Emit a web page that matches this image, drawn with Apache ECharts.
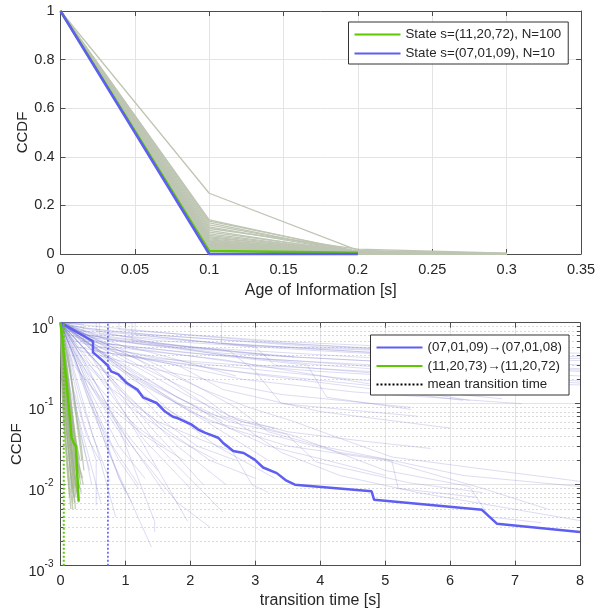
<!DOCTYPE html>
<html><head><meta charset="utf-8">
<script src="https://cdn.jsdelivr.net/npm/echarts@6/dist/echarts.min.js"></script>
<style>html,body{margin:0;padding:0;background:#fff}#c{width:597px;height:614px}</style>
</head><body><div id="c"></div>
<script>
// ================= TOP PANEL DATA =================
const topAges = [0, 0.1, 0.2, 0.3];
const topGreenCCDF = [1, 0.012, 0.005];          // State s=(11,20,72), N=100
const topBlueCCDF  = [1, 0.0, 0.0];              // State s=(07,01,09), N=10
const topGrayAt01 = [0.25,0.14,0.135,0.128,0.12,0.112,0.105,0.097,0.09,0.083,0.077,0.071,0.066,0.062,0.058,0.055,0.052,0.049,0.046,0.044,0.042,0.040,0.038,0.036,0.034,0.032,0.030,0.028,0.027,0.026,0.025,0.024,0.023,0.022,0.021,0.020,0.019,0.018,0.017,0.016];
const topGrayAt02 = [0.015,0.008,0.012,0.004,0.010,0.006,0.020,0.003,0.009,0.005,0.007,0.002,0.011,0.004,0.006,0.003,0.008,0.002,0.005,0.001,0.004,0.003,0.006,0.002,0.001,0.003,0.002,0.004,0.001,0.002,0.003,0.001,0.002,0.001,0.002,0.001,0.001,0.002,0.001,0.001];
const topGrayAt03 = [0.002,0,0.001,0,0,0,0.003,0,0,0,0.001,0,0.001,0,0,0,0,0,0,0,0,0,0,0,0,0,0,0,0,0,0,0,0,0,0,0,0,0,0,0];

// ================= BOTTOM PANEL DATA =================
const blueTransition = [[0,1],[0.5,0.59],[0.5,0.43],[0.63,0.35],[0.72,0.30],[0.78,0.25],[0.89,0.23],[1.02,0.18],[1.19,0.148],[1.27,0.12],[1.48,0.102],[1.61,0.080],[1.73,0.069],[1.81,0.066],[2.02,0.055],[2.12,0.048],[2.22,0.044],[2.43,0.038],[2.5,0.033],[2.66,0.026],[2.82,0.0246],[2.99,0.0204],[3.12,0.0163],[3.33,0.0139],[3.48,0.0112],[3.61,0.010],[4.79,0.0083],[4.83,0.0065],[6.49,0.0049],[6.72,0.0033],[8,0.0026]];
const greenTransition = [[0,1],[0.03,0.6],[0.09,0.19],[0.15,0.06],[0.17,0.038],[0.21,0.032],[0.235,0.03],[0.28,0.0062]];
const meanBlue = 0.73;
const meanGreen = 0.05;

const lavenderLines = [
 [[0,1],[0.4,0.85],[1.5,0.7],[3,0.58],[5,0.47],[8,0.42]],
 [[0,1],[0.5,0.8],[2.5,0.55],[5,0.42],[8,0.34]],
 [[0,1],[0.3,0.8],[1.5,0.6],[4,0.45],[8,0.3]],
 [[0,1],[0.6,0.7],[2,0.5],[5,0.36],[8,0.27]],
 [[0,1],[0.2,0.75],[1.2,0.55],[3.5,0.38],[8,0.25]],
 [[0,1],[0.5,0.65],[2.5,0.42],[6,0.3],[8,0.26]],
 [[0,1],[0.8,0.6],[3,0.36],[8,0.22]],
 [[0,1],[0.3,0.6],[2,0.42],[5,0.28],[8,0.19]],
 [[0,1],[1,0.5],[3,0.3],[6,0.22],[8,0.18]],
 [[0,1],[0.4,0.55],[1.5,0.36],[4,0.25],[7.6,0.17]],
 [[0,1],[0.6,0.5],[2,0.32],[4.5,0.2],[6.8,0.14]],
 [[0,1],[0.2,0.6],[1,0.4],[3,0.23],[6.2,0.11]],
 [[0,1],[0.5,0.45],[2.5,0.26],[5,0.16],[6.8,0.115]],
 [[0,1],[0.9,0.42],[2.8,0.2],[4.5,0.14],[7.1,0.1]],
 [[0,1],[0.3,0.45],[1.5,0.26],[3.4,0.13],[5.4,0.09]],
 [[0,1],[2.48,1],[2.48,0.56],[5,0.42],[8,0.36]],
 [[0,1],[0.6,1],[0.6,0.72],[3,0.52],[7,0.39]],
 [[0,1],[0.9,1],[0.9,0.82],[3.5,0.58],[6,0.47]],
 [[0,1],[1.15,1],[1.15,0.72],[3,0.5],[3.3,0.3],[6,0.2],[8,0.17]],
 [[0,1],[0.4,0.7],[2.6,0.45],[3.0,0.25],[3.4,0.1],[5.5,0.07]],
 [[0,1],[0.7,0.55],[3.8,0.3],[4.1,0.12],[5.4,0.085]],
 [[0,1],[0.25,0.5],[1.8,0.3],[2.5,0.15],[4,0.08],[6,0.05]],
 [[0,1],[0.15,0.7],[0.8,0.5],[2.5,0.35],[6.3,0.11]],
 [[0,1],[1.1,1],[1.1,0.6],[2.5,0.4],[4,0.3],[7,0.2]],
 [[0,1],[0.55,1],[0.55,0.8],[1.5,0.55],[3.2,0.4]],
 [[0,1],[0.35,0.95],[0.35,0.6],[1.0,0.3],[1.8,0.12],[2.5,0.06]],
 [[0,1],[0.2,0.9],[1.0,0.75],[2.4,0.62],[4.0,0.5],[6.5,0.41],[8,0.38]],
 [[0,1],[0.7,0.88],[2.0,0.7],[3.6,0.55],[5.3,0.46]],
 [[0,1],[0.1,0.8],[0.8,0.62],[2.2,0.48],[3.6,0.38]],
 [[0,1],[0.45,0.62],[1.3,0.45],[2.1,0.3],[2.7,0.22]],
 [[0,1],[0.3,0.3],[0.6,0.06],[0.9,0.012],[1.1,0.006]],
 [[0,1],[0.2,0.4],[0.5,0.08],[0.8,0.02],[1.4,0.0017]],
 [[0,1],[0.4,0.3],[0.9,0.05],[1.45,0.0035],[1.45,0.0026]],
 [[0,1],[0.5,0.35],[1.2,0.04],[1.96,0.0035]],
 [[0,1],[0.6,0.3],[1.5,0.03],[2.5,0.0046]],
 [[0,1],[0.15,0.3],[0.35,0.06],[0.55,0.02],[0.55,0.0056]],
 [[0,1],[0.25,0.2],[0.5,0.04],[0.76,0.011]],
 [[0,1],[0.1,0.4],[0.3,0.05],[0.48,0.01]],
 [[0,1],[0.35,0.2],[0.7,0.03],[1.0,0.008]],
 [[0,1],[0.4,0.15],[0.8,0.03],[1.2,0.01]],
 [[0,1],[0.5,0.2],[1.0,0.04],[1.6,0.008]],
 [[0,1],[0.3,0.25],[0.9,0.03],[1.3,0.012]],
 [[0,1],[0.7,0.25],[1.4,0.05],[2.2,0.01]],
 [[0,1],[0.8,0.2],[1.8,0.03],[2.55,0.01]],
 [[0,1],[0.2,0.15],[0.4,0.04],[0.6,0.02]],
 [[0,1],[0.45,0.1],[0.9,0.02],[1.2,0.009]],
 [[0,1],[0.6,0.12],[1.1,0.035],[1.5,0.015]],
 [[0,1],[1.0,0.2],[1.6,0.06],[2.1,0.03],[2.7,0.02]],
 [[0,1],[0.9,0.3],[1.7,0.08],[2.4,0.03],[3.3,0.012]],
 [[0,1],[0.35,0.5],[0.9,0.15],[1.6,0.05],[2.3,0.02],[3.0,0.012]],
 [[0,1],[0.25,0.08],[0.45,0.02],[0.62,0.006]],
 [[0,1],[0.15,0.5],[0.4,0.2],[0.7,0.08],[1.05,0.03]],
 [[0,1],[0.5,0.5],[1.1,0.2],[1.8,0.1],[2.6,0.04],[3.2,0.02]],
 [[0,1],[0.3,0.12],[0.55,0.03],[0.85,0.004]],
 [[0,1],[0.12,0.2],[0.28,0.05],[0.45,0.015]],
 [[0,1],[0.3,0.4],[0.8,0.15],[1.5,0.06],[2.2,0.035],[2.7,0.025]],
 [[0,1],[0.4,0.3],[1.0,0.1],[1.7,0.04],[2.4,0.02]],
 [[0,1],[0.6,0.5],[1.3,0.25],[2.0,0.12],[2.8,0.06],[3.3,0.05]],
 [[0,1],[0.2,0.3],[0.7,0.1],[1.3,0.04],[1.9,0.02]],
 [[0,1],[1.2,0.3],[2.2,0.12],[2.6,0.07],[3.5,0.045],[4.6,0.035],[5.7,0.028]],
 [[0,1],[0.8,0.35],[1.8,0.12],[2.6,0.06],[3.48,0.042],[3.94,0.019],[5.38,0.0105],[6.5,0.008]],
 [[0,1],[1.0,0.25],[2.0,0.1],[2.6,0.05],[3.2,0.03],[3.6,0.025],[4.1,0.02],[5.0,0.013]],
 [[0,1],[0.5,0.3],[1.5,0.1],[2.6,0.03],[2.95,0.01],[3.2,0.008]],
 [[0,1],[0.8,0.3],[2,0.08],[2.6,0.05],[3.5,0.03],[5,0.02],[6.5,0.009],[7.5,0.005]],
 [[0,1],[1,0.25],[2.3,0.06],[3.3,0.04],[4.3,0.025],[5.1,0.02],[5.2,0.009],[6.4,0.007]],
 [[0,1],[1.2,0.35],[2.5,0.07],[3.6,0.04],[5,0.015],[6.3,0.0095],[6.6,0.004],[7.4,0.0034]],
 [[0,1],[0.7,0.4],[1.8,0.1],[2.7,0.06],[3.4,0.025],[4.3,0.013],[5.5,0.008],[8,0.0036]],
 [[0,1],[1.5,0.3],[2.7,0.09],[3.2,0.045],[4.0,0.03],[5.1,0.02],[6.2,0.013],[8,0.0095]],
 [[0,1],[0.9,0.45],[2.2,0.15],[2.9,0.09],[3.6,0.06],[4.2,0.04],[5.1,0.022],[6.4,0.016],[8,0.011]],
 [[0,1],[0.5,0.15],[1.1,0.03],[1.8,0.006],[2.3,0.003]],
 [[0,1],[0.65,0.18],[1.3,0.035],[2.0,0.009]],
 [[0,1],[0.1,0.6],[0.4,0.25],[0.8,0.1],[1.2,0.05],[1.6,0.03]]
];

const fanLines = [
 [[0,1],[0.05,0.3],[0.12,0.06],[0.2,0.015],[0.25,0.008]],
 [[0,1],[0.08,0.25],[0.16,0.05],[0.26,0.012],[0.32,0.008]],
 [[0,1],[0.1,0.3],[0.2,0.06],[0.3,0.015],[0.35,0.01]],
 [[0,1],[0.04,0.2],[0.1,0.04],[0.18,0.01],[0.22,0.006]],
 [[0,1],[0.06,0.15],[0.14,0.03],[0.24,0.007]],
 [[0,1],[0.12,0.2],[0.22,0.04],[0.3,0.02]],
 [[0,1],[0.07,0.4],[0.15,0.1],[0.25,0.025],[0.3,0.012]],
 [[0,1],[0.03,0.35],[0.09,0.08],[0.16,0.02],[0.2,0.009]],
 [[0,1],[0.11,0.15],[0.2,0.03],[0.28,0.009]],
 [[0,1],[0.02,0.5],[0.06,0.12],[0.13,0.025],[0.19,0.006]],
 [[0,1],[0.15,0.25],[0.25,0.06],[0.33,0.02]],
 [[0,1],[0.09,0.12],[0.17,0.02],[0.23,0.005]],
 [[0,1],[0.13,0.35],[0.24,0.08],[0.32,0.03],[0.36,0.015]],
 [[0,1],[0.05,0.2],[0.13,0.05],[0.21,0.012],[0.27,0.007]],
 [[0,1],[0.01,0.3],[0.04,0.08],[0.09,0.02],[0.14,0.007]],
 [[0,1],[0.02,0.25],[0.07,0.05],[0.12,0.012],[0.16,0.005]],
 [[0,1],[0.04,0.4],[0.1,0.1],[0.17,0.03],[0.24,0.01]],
 [[0,1],[0.06,0.35],[0.14,0.07],[0.22,0.018],[0.29,0.009]],
 [[0,1],[0.03,0.2],[0.08,0.06],[0.15,0.015],[0.21,0.007]],
 [[0,1],[0.09,0.28],[0.18,0.06],[0.27,0.016],[0.31,0.01]],
 [[0,1],[0.02,0.4],[0.05,0.15],[0.11,0.035],[0.18,0.008]],
 [[0,1],[0.1,0.22],[0.19,0.05],[0.26,0.02],[0.34,0.012]],
 [[0,1],[0.07,0.18],[0.15,0.04],[0.23,0.012],[0.28,0.006]],
 [[0,1],[0.05,0.45],[0.12,0.12],[0.2,0.035],[0.27,0.014]],
 [[0,1],[0.08,0.15],[0.16,0.035],[0.25,0.009]],
 [[0,1],[0.03,0.12],[0.09,0.03],[0.15,0.009],[0.19,0.005]]
];

const minorLogTicks = [0.002,0.003,0.004,0.005,0.006,0.007,0.008,0.009,0.02,0.03,0.04,0.05,0.06,0.07,0.08,0.09,0.2,0.3,0.4,0.5,0.6,0.7,0.8,0.9];

const nameTopGreen = 'State s=(11,20,72), N=100';
const nameTopBlue = 'State s=(07,01,09), N=10';
const nameBotBlue = '(07,01,09)\u2192(07,01,08)';
const nameBotGreen = '(11,20,73)\u2192(11,20,72)';
const nameMean = 'mean transition time';

// ================= STYLE =================
const FONT = 'Liberation Sans, Arial, Helvetica, sans-serif';
const TXT = '#262626';
const AX = '#4d4d4d';
const GRID = '#e4e4e4';
const BLUE = '#5e5ef2';
const GREEN = '#5dc800';
const GRAY = '#bec6b3';
const LAV = 'rgba(130,130,210,0.28)';
const FAN = 'rgba(160,176,140,0.62)';

function xAx(grid, pos, opt) {
  return Object.assign({
    gridIndex: grid, type: 'value', position: pos, nameMoveOverlap: false,
    axisLine: {show: true, onZero: false, lineStyle: {color: AX, width: 1}},
    axisTick: {show: true, inside: true, length: 5, lineStyle: {color: AX}},
    axisLabel: {show: pos === 'bottom', color: TXT, fontSize: 14.5, fontFamily: FONT, margin: 8},
    splitLine: {show: pos === 'bottom', lineStyle: {color: GRID, width: 1}}
  }, opt);
}
function yAx(grid, pos, opt) {
  return Object.assign({
    gridIndex: grid, type: 'value', position: pos, nameMoveOverlap: false,
    axisLine: {show: true, onZero: false, lineStyle: {color: AX, width: 1}},
    axisTick: {show: true, inside: true, length: 5, lineStyle: {color: AX}},
    axisLabel: {show: pos === 'left', color: TXT, fontSize: 14.5, fontFamily: FONT, margin: 6},
    splitLine: {show: pos === 'left', lineStyle: {color: GRID, width: 1}}
  }, opt);
}

const series = [];
for (let i = 0; i < topGrayAt01.length; i++) {
  series.push({type: 'line', xAxisIndex: 0, yAxisIndex: 0, silent: true, symbol: 'none',
    lineStyle: {color: GRAY, width: 1.3}, z: 2,
    data: [[topAges[0], 1], [topAges[1], topGrayAt01[i]], [topAges[2], topGrayAt02[i]], [topAges[3], topGrayAt03[i]]]});
}
series.push({name: nameTopGreen, type: 'line', xAxisIndex: 0, yAxisIndex: 0, symbol: 'none', clip: false,
  lineStyle: {color: GREEN, width: 2.5}, itemStyle: {color: GREEN}, z: 4,
  data: topGreenCCDF.map((v, i) => [topAges[i], v])});
series.push({name: nameTopBlue, type: 'line', xAxisIndex: 0, yAxisIndex: 0, symbol: 'none', clip: false,
  lineStyle: {color: BLUE, width: 2.5}, itemStyle: {color: BLUE}, z: 5,
  data: topBlueCCDF.map((v, i) => [topAges[i], v])});

series.push({type: 'custom', xAxisIndex: 2, yAxisIndex: 2, silent: true, z: 1,
  data: minorLogTicks.map(v => [0, v]),
  renderItem: function (params, api) {
    const v = api.value(1);
    const p0 = api.coord([0, v]);
    const p1 = api.coord([8, v]);
    const y = Math.round(p0[1]) + 0.5;
    return {type: 'group', children: [
      {type: 'line', shape: {x1: p0[0], y1: y, x2: p1[0], y2: y}, style: {stroke: '#b4b4b4', lineWidth: 1, lineDash: [1, 3]}},
      {type: 'line', shape: {x1: p0[0], y1: y, x2: p0[0] + 3, y2: y}, style: {stroke: AX, lineWidth: 1}},
      {type: 'line', shape: {x1: p1[0] - 3, y1: y, x2: p1[0], y2: y}, style: {stroke: AX, lineWidth: 1}}
    ]};
  }
});
lavenderLines.forEach(l => series.push({type: 'line', xAxisIndex: 2, yAxisIndex: 2, silent: true, symbol: 'none',
  lineStyle: {color: LAV, width: 1}, z: 2, data: l}));
fanLines.forEach(l => series.push({type: 'line', xAxisIndex: 2, yAxisIndex: 2, silent: true, symbol: 'none',
  lineStyle: {color: FAN, width: 1.3}, z: 3, data: l}));
series.push({name: nameBotBlue, type: 'line', xAxisIndex: 2, yAxisIndex: 2, symbol: 'none',
  lineStyle: {color: BLUE, width: 2.5}, itemStyle: {color: BLUE}, z: 5, data: blueTransition});
series.push({name: nameBotGreen, type: 'line', xAxisIndex: 2, yAxisIndex: 2, symbol: 'none',
  lineStyle: {color: GREEN, width: 2.5}, itemStyle: {color: GREEN}, z: 5, data: greenTransition});
series.push({name: nameMean, type: 'line', xAxisIndex: 2, yAxisIndex: 2, symbol: 'none',
  lineStyle: {color: '#000', width: 2, type: [2, 2]}, itemStyle: {color: '#000'}, data: []});
series.push({type: 'line', xAxisIndex: 2, yAxisIndex: 2, symbol: 'none', silent: true, z: 6,
  lineStyle: {color: BLUE, width: 1.6, type: [2, 2]}, data: [[meanBlue, 0.001], [meanBlue, 1]]});
series.push({type: 'line', xAxisIndex: 2, yAxisIndex: 2, symbol: 'none', silent: true, z: 6,
  lineStyle: {color: GREEN, width: 2, type: [2, 2]}, data: [[meanGreen, 0.001], [meanGreen, 1]]});

const logLabel = {
  show: true, color: TXT, fontFamily: FONT, margin: 7, padding: [8, 0, 0, 0],
  formatter: v => '{b|10}{s|' + Math.round(Math.log10(v)) + '}',
  rich: {
    b: {fontSize: 14.5, fontFamily: FONT, color: TXT, lineHeight: 20, verticalAlign: 'bottom'},
    s: {fontSize: 10, fontFamily: FONT, color: TXT, lineHeight: 10, verticalAlign: 'top'}
  }
};

const legendCommon = {
  orient: 'vertical', itemWidth: 46, itemHeight: 14, backgroundColor: '#fff', borderColor: '#333',
  borderWidth: 1, borderRadius: 0, itemStyle: {opacity: 0}, selectedMode: false,
  textStyle: {fontSize: 13.3, color: TXT, fontFamily: FONT}
};

const option = {
  animation: false,
  backgroundColor: '#fff',
  textStyle: {fontFamily: FONT},
  grid: [
    {left: 60.5, top: 11, width: 520.5, height: 243, outerBoundsMode: 'none', containLabel: false},
    {left: 60.5, top: 322.7, width: 519.5, height: 243, outerBoundsMode: 'none', containLabel: false}
  ],
  xAxis: [
    xAx(0, 'bottom', {min: 0, max: 0.35, interval: 0.05, name: 'Age of Information [s]', nameLocation: 'middle', nameGap: 29,
      nameTextStyle: {fontSize: 16, color: TXT, fontFamily: FONT}}),
    xAx(0, 'top', {min: 0, max: 0.35, interval: 0.05}),
    xAx(1, 'bottom', {min: 0, max: 8, interval: 1, name: 'transition time [s]', nameLocation: 'middle', nameGap: 27,
      nameTextStyle: {fontSize: 16, color: TXT, fontFamily: FONT}}),
    xAx(1, 'top', {min: 0, max: 8, interval: 1})
  ],
  yAxis: [
    yAx(0, 'left', {min: 0, max: 1, interval: 0.2, name: 'CCDF', nameLocation: 'middle', nameGap: 30, nameRotate: 90,
      nameTextStyle: {fontSize: 15, color: TXT, fontFamily: FONT}}),
    yAx(0, 'right', {min: 0, max: 1, interval: 0.2}),
    yAx(1, 'left', {type: 'log', logBase: 10, min: 0.001, max: 1, axisLabel: logLabel, name: 'CCDF', nameLocation: 'middle', nameGap: 36, nameRotate: 90,
      nameTextStyle: {fontSize: 15, color: TXT, fontFamily: FONT}}),
    yAx(1, 'right', {type: 'log', logBase: 10, min: 0.001, max: 1})
  ],
  legend: [
    Object.assign({}, legendCommon, {data: [nameTopGreen, nameTopBlue], left: 348.5, top: 22, itemGap: 6, padding: [6, 7, 4, 5]}),
    Object.assign({}, legendCommon, {data: [nameBotBlue, nameBotGreen, nameMean], left: 370.5, top: 335, itemGap: 5.5, padding: [6, 7, 4, 5]})
  ],
  series: series
};

const chart = echarts.init(document.getElementById('c'), null, {renderer: 'canvas'});
chart.setOption(option);
</script>
</body></html>
